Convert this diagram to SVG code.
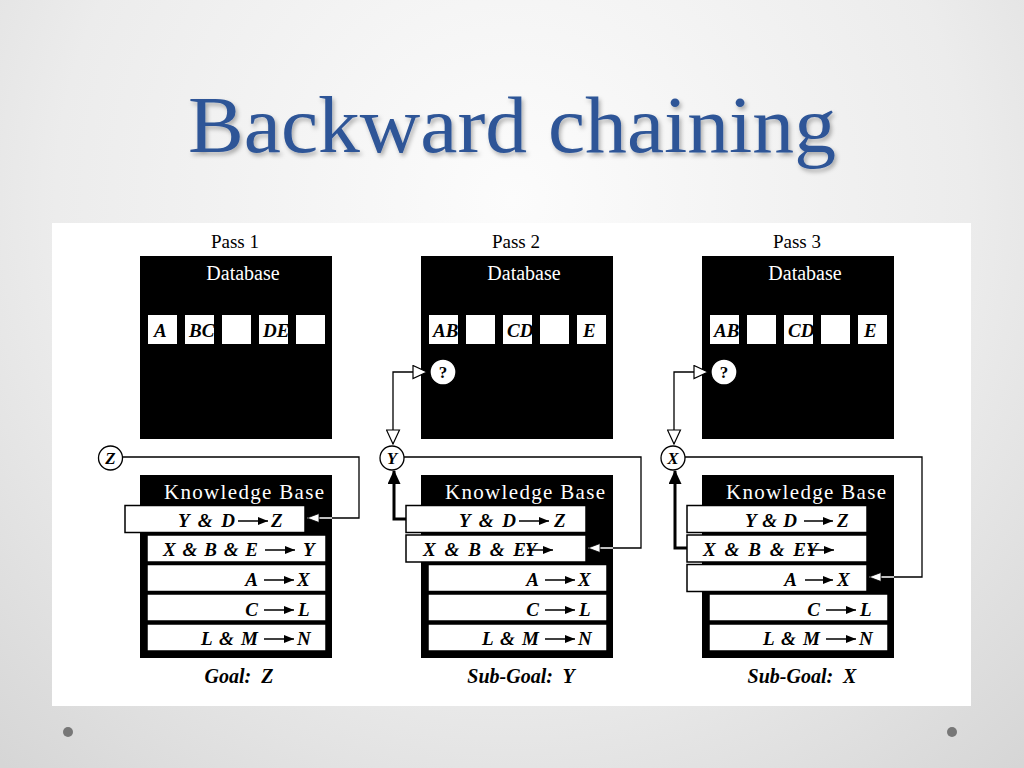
<svg xmlns="http://www.w3.org/2000/svg" width="1024" height="768" viewBox="0 0 1024 768">
<defs>
<radialGradient id="bg" cx="512" cy="200" r="760" gradientUnits="userSpaceOnUse">
<stop offset="0" stop-color="#fcfcfc"/>
<stop offset="0.6" stop-color="#ececec"/>
<stop offset="1" stop-color="#d6d6d6"/>
</radialGradient>
<filter id="sh" x="-5%" y="-20%" width="110%" height="140%">
<feDropShadow dx="2" dy="3" stdDeviation="2" flood-color="#000" flood-opacity="0.3"/>
</filter>
<marker id="fa" markerUnits="userSpaceOnUse" viewBox="0 0 10 8" refX="10" refY="4" markerWidth="10" markerHeight="8" orient="auto">
<path d="M0,0 L10,4 L0,8 z" fill="#000"/>
</marker>
<marker id="oa" markerUnits="userSpaceOnUse" viewBox="-1 -1 16 15" refX="14" refY="6.5" markerWidth="16" markerHeight="15" orient="auto-start-reverse">
<path d="M0,0 L14,6.5 L0,13 z" fill="#fff" stroke="#000" stroke-width="1.2"/>
</marker>
<marker id="ob" markerUnits="userSpaceOnUse" viewBox="-1 -1 14 11" refX="12" refY="4.5" markerWidth="14" markerHeight="11" orient="auto">
<path d="M0,0 L12,4.5 L0,9 z" fill="#fff" stroke="#000" stroke-width="0.8"/>
</marker>
<marker id="ta" markerUnits="userSpaceOnUse" viewBox="0 0 14 13" refX="13" refY="6.5" markerWidth="14" markerHeight="13" orient="auto">
<path d="M0,0 L14,6.5 L0,13 z" fill="#000"/>
</marker>
<clipPath id="c0"><rect x="148" y="315" width="29" height="29"/></clipPath>
<clipPath id="c1"><rect x="185" y="315" width="29" height="29"/></clipPath>
<clipPath id="c2"><rect x="222" y="315" width="29" height="29"/></clipPath>
<clipPath id="c3"><rect x="259" y="315" width="29" height="29"/></clipPath>
<clipPath id="c4"><rect x="296" y="315" width="29" height="29"/></clipPath>
</defs>
<style>
.s{font-family:"Liberation Serif","Times New Roman",serif}
.lbl{font-size:19px;text-anchor:middle;fill:#000}
.hd{font-size:20px;text-anchor:middle;fill:#fff}
.kb{font-size:21px;text-anchor:middle;fill:#fff}
.bi{font-weight:bold;font-style:italic;fill:#000}
.cell{font-size:19px}
.rt{font-size:19px}
.e{text-anchor:end}
.gl{font-size:20px;text-anchor:middle;white-space:pre}
.box{fill:#000}
.wc{fill:#fff}
.row{fill:#fff;stroke:#000;stroke-width:1.5}
.ar{stroke:#000;stroke-width:1.5;marker-end:url(#fa)}
.circ{fill:#fff;stroke:#000;stroke-width:1.3}
.ln{fill:none;stroke:#000;stroke-width:1.3}
.wl{fill:none;stroke:#fff;stroke-width:1.5;marker-end:url(#ob)}
.thick{fill:none;stroke:#000;stroke-width:3;marker-end:url(#ta)}
.cl{font-size:17px;text-anchor:middle}
</style>
<rect width="1024" height="768" fill="url(#bg)"/>
<text class="s" x="512" y="152" font-size="80" fill="#2E5597" text-anchor="middle" textLength="648" lengthAdjust="spacingAndGlyphs" filter="url(#sh)">Backward chaining</text>
<rect x="52" y="223" width="919" height="483" fill="#fff"/>
<circle cx="68" cy="732" r="5" fill="#777"/>
<circle cx="952" cy="732" r="5" fill="#777"/>

<!-- PASS 1 -->
<g id="pass1">
<text class="s lbl" x="235" y="248">Pass 1</text>
<g id="p1-db">
<rect class="box" x="140" y="256" width="192" height="183"/>
<text class="s hd" x="243" y="280">Database</text>
<rect class="wc" x="148" y="315" width="29" height="29"/><text class="s bi cell" x="154" y="337" clip-path="url(#c0)">A</text>
<rect class="wc" x="185" y="315" width="29" height="29"/><text class="s bi cell" x="189" y="337" clip-path="url(#c1)">BC</text>
<rect class="wc" x="222" y="315" width="29" height="29"/>
<rect class="wc" x="259" y="315" width="29" height="29"/><text class="s bi cell" x="263" y="337" clip-path="url(#c3)">DE</text>
<rect class="wc" x="296" y="315" width="29" height="29"/>
</g>
<g id="p1-kb">
<rect class="box" x="140" y="475" width="192" height="183"/>
<text class="s kb" x="244" y="499" textLength="160" lengthAdjust="spacing">Knowledge Base</text>
<rect class="row" x="125" y="505.5" width="180" height="27"/>
<text class="s bi rt e" x="235" y="527" textLength="57">Y &amp; D</text><line class="ar" x1="238" y1="521" x2="268" y2="521"/><text class="s bi rt" x="271" y="527">Z</text>
<rect class="row" x="147" y="535" width="179" height="27"/>
<text class="s bi rt e" x="258" y="556" textLength="95">X &amp; B &amp; E</text><line class="ar" x1="265" y1="550" x2="295" y2="550"/><text class="s bi rt" x="303" y="556">Y</text>
<rect class="row" x="147" y="564.5" width="179" height="27"/>
<text class="s bi rt e" x="258" y="586">A</text><line class="ar" x1="264" y1="580" x2="294" y2="580"/><text class="s bi rt" x="297" y="586">X</text>
<rect class="row" x="147" y="594" width="179" height="27"/>
<text class="s bi rt e" x="258" y="616">C</text><line class="ar" x1="264" y1="610" x2="294" y2="610"/><text class="s bi rt" x="298" y="616">L</text>
<rect class="row" x="147" y="624" width="179" height="27"/>
<text class="s bi rt e" x="258" y="645" textLength="57">L &amp; M</text><line class="ar" x1="264" y1="639" x2="294" y2="639"/><text class="s bi rt" x="297" y="645">N</text>
</g>
<g id="p1-goal">
<circle class="circ" cx="110.5" cy="458" r="12"/>
<text class="s bi cl" x="110.5" y="464">Z</text>
</g>
<text class="s bi gl" x="239" y="683">Goal:  Z</text>
</g>

<!-- PASS 2 -->
<g id="pass2" transform="translate(281,0)">
<text class="s lbl" x="235" y="248">Pass 2</text>
<g id="p2-db">
<rect class="box" x="140" y="256" width="192" height="183"/>
<text class="s hd" x="243" y="280">Database</text>
<rect class="wc" x="148" y="315" width="29" height="29"/><text class="s bi cell" x="152" y="337" clip-path="url(#c0)">AB</text>
<rect class="wc" x="185" y="315" width="29" height="29"/>
<rect class="wc" x="222" y="315" width="29" height="29"/><text class="s bi cell" x="226" y="337" clip-path="url(#c2)">CD</text>
<rect class="wc" x="259" y="315" width="29" height="29"/>
<rect class="wc" x="296" y="315" width="29" height="29"/><text class="s bi cell" x="302" y="337" clip-path="url(#c4)">E</text>
</g>
<g id="p2-q">
<circle class="circ" cx="162" cy="372" r="13"/>
<text class="s bi cl" x="162" y="378" style="font-style:normal">?</text>
</g>
<g id="p2-kb">
<rect class="box" x="140" y="475" width="192" height="183"/>
<text class="s kb" x="244" y="499" textLength="160" lengthAdjust="spacing">Knowledge  Base</text>
<rect class="row" x="125" y="505.5" width="180" height="27"/>
<text class="s bi rt e" x="235" y="527" textLength="57">Y &amp; D</text><line class="ar" x1="238" y1="521" x2="268" y2="521"/><text class="s bi rt" x="273" y="527">Z</text>
<rect class="row" x="125" y="535" width="180" height="27"/>
<text class="s bi rt" x="142" y="556" textLength="103">X &amp; B &amp; E</text><text class="s bi rt" x="244" y="556">Y</text><line class="ar" x1="246" y1="550" x2="272" y2="550"/>
<rect class="row" x="147" y="564.5" width="179" height="27"/>
<text class="s bi rt e" x="258" y="586">A</text><line class="ar" x1="264" y1="580" x2="294" y2="580"/><text class="s bi rt" x="297" y="586">X</text>
<rect class="row" x="147" y="594" width="179" height="27"/>
<text class="s bi rt e" x="258" y="616">C</text><line class="ar" x1="264" y1="610" x2="294" y2="610"/><text class="s bi rt" x="298" y="616">L</text>
<rect class="row" x="147" y="624" width="179" height="27"/>
<text class="s bi rt e" x="258" y="645" textLength="57">L &amp; M</text><line class="ar" x1="264" y1="639" x2="294" y2="639"/><text class="s bi rt" x="297" y="645">N</text>
</g>
<g id="p2-goal">
<circle class="circ" cx="111" cy="458" r="12"/>
<text class="s bi cl" x="111" y="464">Y</text>
</g>
<text class="s bi gl" x="240" y="683">Sub-Goal:  Y</text>
</g>

<!-- PASS 3 -->
<g id="pass3" transform="translate(562,0)">
<text class="s lbl" x="235" y="248">Pass 3</text>
<g id="p3-db">
<rect class="box" x="140" y="256" width="192" height="183"/>
<text class="s hd" x="243" y="280">Database</text>
<rect class="wc" x="148" y="315" width="29" height="29"/><text class="s bi cell" x="152" y="337" clip-path="url(#c0)">AB</text>
<rect class="wc" x="185" y="315" width="29" height="29"/>
<rect class="wc" x="222" y="315" width="29" height="29"/><text class="s bi cell" x="226" y="337" clip-path="url(#c2)">CD</text>
<rect class="wc" x="259" y="315" width="29" height="29"/>
<rect class="wc" x="296" y="315" width="29" height="29"/><text class="s bi cell" x="302" y="337" clip-path="url(#c4)">E</text>
</g>
<g id="p3-q">
<circle class="circ" cx="162" cy="372" r="13"/>
<text class="s bi cl" x="162" y="378" style="font-style:normal">?</text>
</g>
<g id="p3-kb">
<rect class="box" x="140" y="475" width="192" height="183"/>
<text class="s kb" x="244" y="499" textLength="160" lengthAdjust="spacing">Knowledge Base</text>
<rect class="row" x="125" y="505.5" width="180" height="27"/>
<text class="s bi rt e" x="235" y="527" textLength="52">Y &amp; D</text><line class="ar" x1="242" y1="521" x2="271" y2="521"/><text class="s bi rt" x="275" y="527">Z</text>
<rect class="row" x="125" y="535" width="180" height="27"/>
<text class="s bi rt" x="141" y="556" textLength="103">X &amp; B &amp; E</text><text class="s bi rt" x="244" y="556">Y</text><line class="ar" x1="246" y1="550" x2="272" y2="550"/>
<rect class="row" x="125" y="564.5" width="180" height="27"/>
<text class="s bi rt e" x="235" y="586">A</text><line class="ar" x1="243" y1="580" x2="271" y2="580"/><text class="s bi rt" x="275" y="586">X</text>
<rect class="row" x="147" y="594" width="179" height="27"/>
<text class="s bi rt e" x="258" y="616">C</text><line class="ar" x1="264" y1="610" x2="294" y2="610"/><text class="s bi rt" x="298" y="616">L</text>
<rect class="row" x="147" y="624" width="179" height="27"/>
<text class="s bi rt e" x="258" y="645" textLength="57">L &amp; M</text><line class="ar" x1="264" y1="639" x2="294" y2="639"/><text class="s bi rt" x="297" y="645">N</text>
</g>
<g id="p3-goal">
<circle class="circ" cx="111" cy="458" r="12"/>
<text class="s bi cl" x="111" y="464">X</text>
</g>
<text class="s bi gl" x="240" y="683">Sub-Goal:  X</text>
</g>

<!-- CONNECTORS -->
<g id="connectors">
<path class="ln" d="M122.5,457 H359 V518 H332"/>
<path class="wl" d="M332,518 H307"/>
<g transform="translate(281,0)">
<path class="ln" d="M123,457 H360 V548 H332"/>
<path class="wl" d="M332,548 H307"/>
<path class="ln" d="M146,372 H112 V444" marker-start="url(#oa)" marker-end="url(#oa)"/>
<path class="thick" d="M125,519 H113 V471"/>
</g>
<g transform="translate(562,0)">
<path class="ln" d="M123,457 H360 V577 H332"/>
<path class="wl" d="M332,577 H307"/>
<path class="ln" d="M146,372 H112 V444" marker-start="url(#oa)" marker-end="url(#oa)"/>
<path class="thick" d="M125,548 H113 V471"/>
</g>
</g>
</svg>
